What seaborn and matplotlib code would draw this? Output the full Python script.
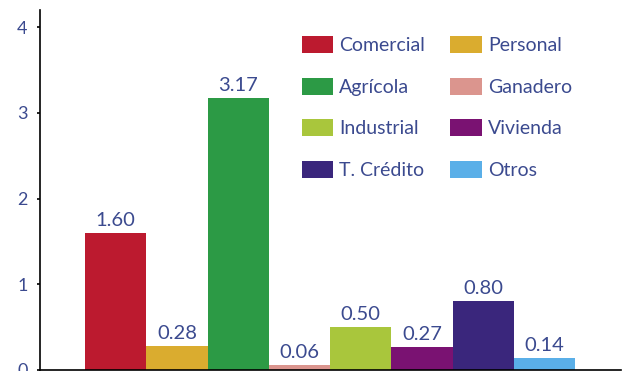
import matplotlib
matplotlib.use("Agg")
import matplotlib.pyplot as plt
import seaborn as sns
import pandas as pd

categorias = ["Comercial", "Personal", "Agrícola", "Ganadero",
              "Industrial", "Vivienda", "T. Crédito", "Otros"]
valores = [1.60, 0.28, 3.17, 0.06, 0.50, 0.27, 0.80, 0.14]
colores = ["#BC1A2F", "#DAAC2F", "#2C9A45", "#DB958E",
           "#A9C63C", "#7A1272", "#3A267C", "#5AAFE8"]
ticks_y = [0, 1, 2, 3, 4]

texto = "#3B4A8F"

sns.set_style("white")
plt.rcParams["font.family"] = ["Lato", "DejaVu Sans"]

df = pd.DataFrame({"categoria": categorias, "valor": valores})

W, H = 625, 371
fig = plt.figure(figsize=(W / 100, H / 100), dpi=100)
ax_left, ax_bottom, ax_w, ax_h = 40, 1, 581, 360
ax = fig.add_axes([ax_left / W, ax_bottom / H, ax_w / W, ax_h / H])

sns.barplot(data=df, x="categoria", y="valor", hue="categoria",
            order=categorias, hue_order=categorias,
            palette=colores, width=1.0, saturation=1.0,
            linewidth=0, edgecolor="none",
            legend=True, ax=ax)

for cont in ax.containers:
    ax.bar_label(cont, fmt="%.2f", padding=3, color=texto, fontsize=14.5)

ax.set_xlim(-1.235, 8.25)
ax.set_ylim(0, 4.2)
ax.set_yticks(ticks_y)
ax.set_xticks([])
ax.set_xlabel("")
ax.set_ylabel("")

for s in ["top", "right"]:
    ax.spines[s].set_visible(False)
for s in ["left", "bottom"]:
    ax.spines[s].set_color("black")
    ax.spines[s].set_linewidth(1.2)

ax.tick_params(axis="y", direction="out", length=2, width=1.2,
               color="black", pad=7, labelsize=13, labelcolor=texto, left=True)

# legend in two columns, filled row by row
handles, labels = ax.get_legend_handles_labels()
orden = [0, 2, 4, 6, 1, 3, 5, 7]
ley_x, ley_y = 302, 36  # upper-left corner in pixels from the top-left
ax.legend([handles[i] for i in orden], [labels[i] for i in orden],
          ncol=2, frameon=False, loc="upper left",
          bbox_to_anchor=((ley_x - ax_left) / ax_w,
                          (H - ley_y - ax_bottom) / ax_h),
          borderpad=0, borderaxespad=0, fontsize=14,
          handlelength=1.6, handleheight=0.98, handletextpad=0.32,
          labelspacing=1.2, columnspacing=1.3, labelcolor=texto)

fig.savefig("out.png", dpi=100)
